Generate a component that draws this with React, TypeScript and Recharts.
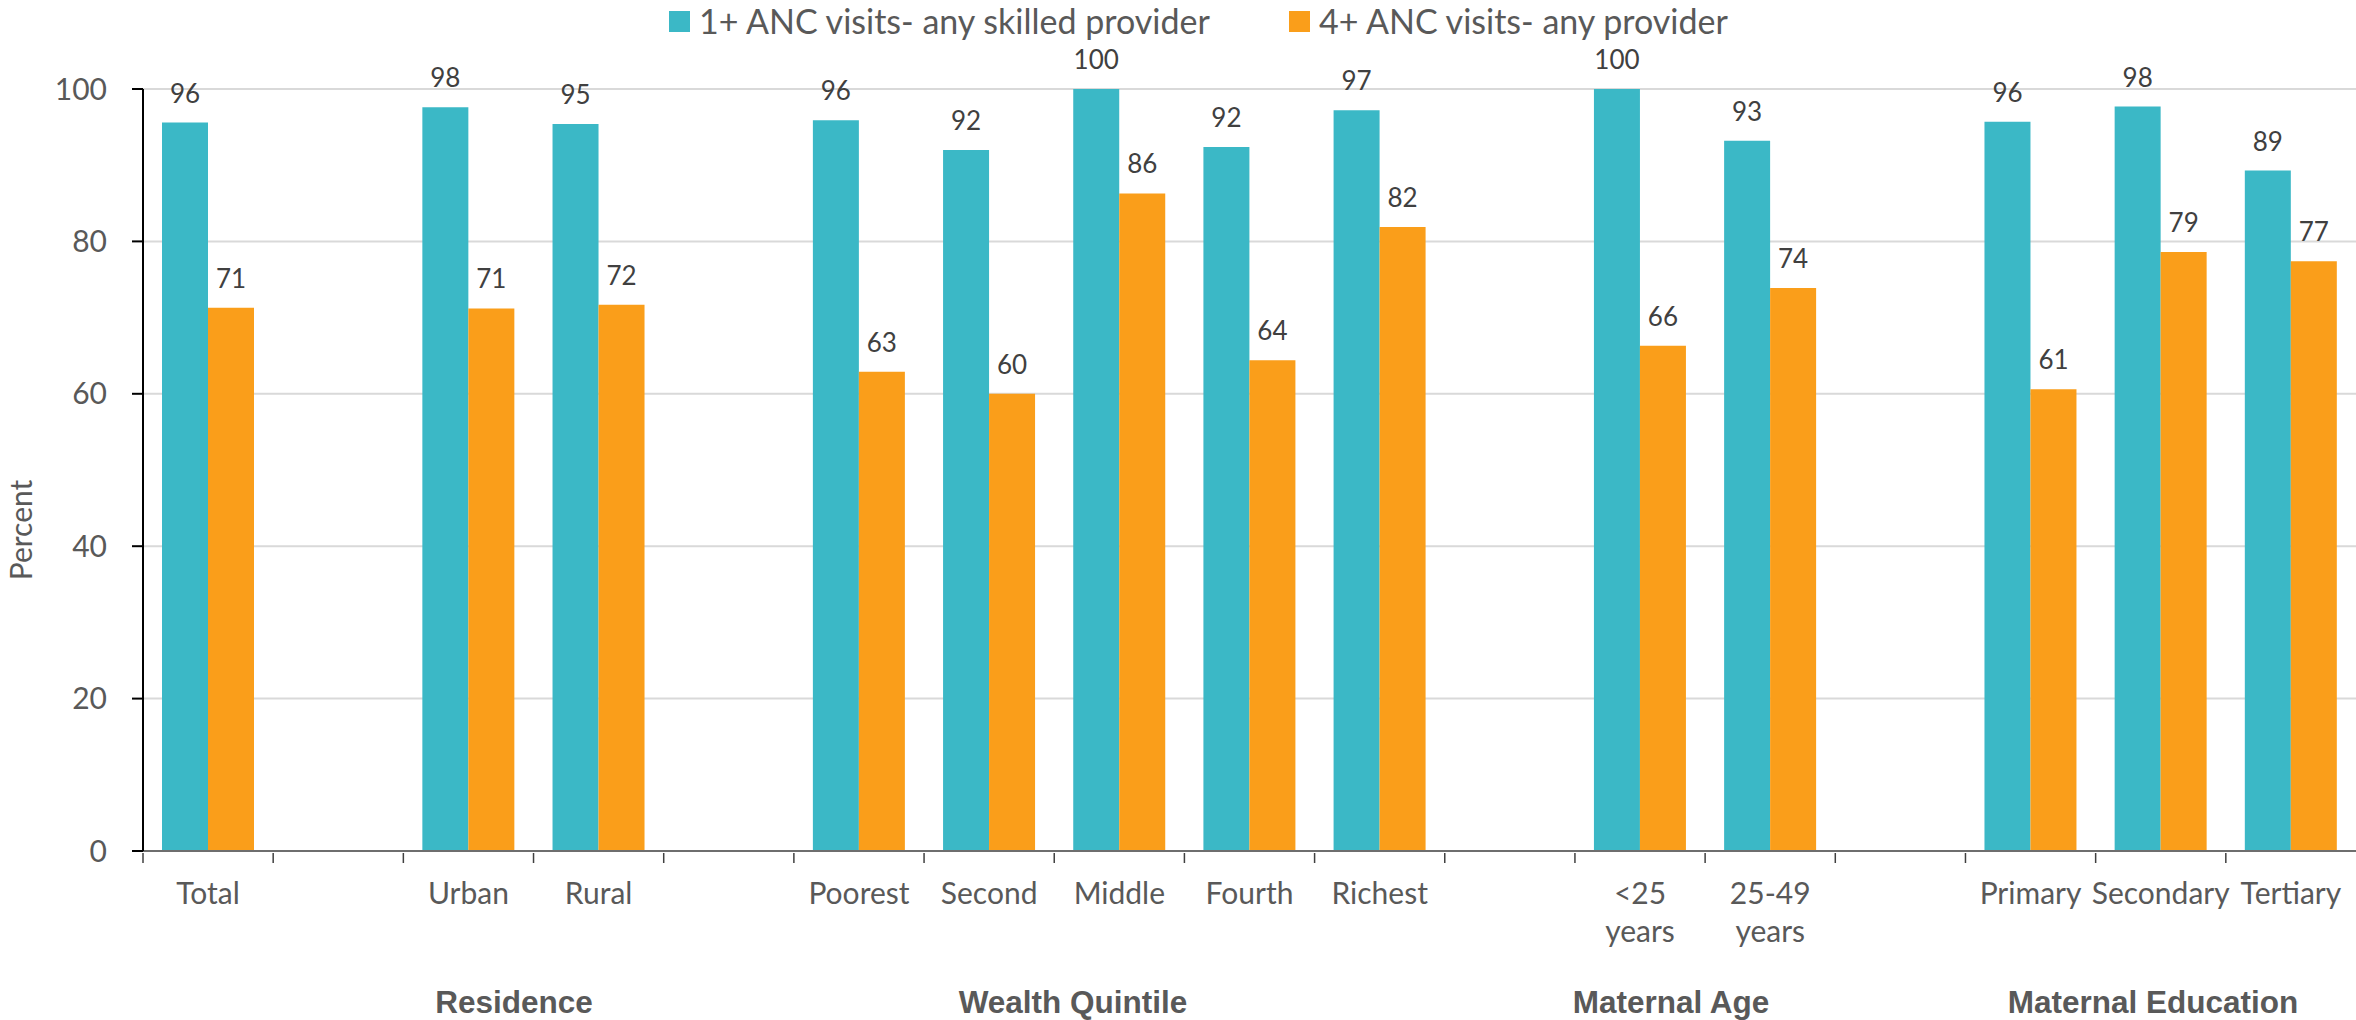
import React from 'react';
import { BarChart, Bar, XAxis, YAxis, CartesianGrid, LabelList, Customized } from 'recharts';

const categories = ['Total', '', 'Urban', 'Rural', '', 'Poorest', 'Second', 'Middle', 'Fourth', 'Richest', '', '<25|years', '25-49|years', '', 'Primary', 'Secondary', 'Tertiary'];
const skilled1 = [95.6, null, 97.6, 95.4, null, 95.9, 92.0, 100, 92.4, 97.2, null, 100, 93.2, null, 95.7, 97.7, 89.3];
const visits4 = [71.3, null, 71.2, 71.7, null, 62.9, 60.0, 86.3, 64.4, 81.9, null, 66.3, 73.9, null, 60.6, 78.6, 77.4];
const seriesNames = ['1+ ANC visits- any skilled provider', '4+ ANC visits- any provider'];
const groupLabels = ['Residence', 'Wealth Quintile', 'Maternal Age', 'Maternal Education'];
const yTicks = [0, 20, 40, 60, 80, 100];

const TEAL = '#3BB8C6';
const ORANGE = '#FA9E1A';
const TEXT = '#595959';
const FONT = 'Lato, "Open Sans", sans-serif';

const W = 2356;
const H = 1020;
const PLOT_LEFT = 143;
const PLOT_TOP = 89;
const PLOT_BOTTOM = 851;
const SLOT = (W - PLOT_LEFT) / categories.length;
const groupX = [514, 1073, 1671, 2153];

const data = categories.map((c, i) => ({ key: 'c' + i, skilled1: skilled1[i], visits4: visits4[i] }));

const XTick = (props: any) => {
  const { x, y, payload } = props;
  const idx = payload.index;
  const lines = categories[idx] ? categories[idx].split('|') : [];
  const bx = x - SLOT / 2;
  return (
    <g>
      <line x1={bx} y1={y} x2={bx} y2={y + 10} stroke="#404040" strokeWidth={1.5} />
      {lines.map((l, i) => (
        <text key={i} x={x} y={y + 51 + i * 38} textAnchor="middle" fill={TEXT} fontSize={30} fontFamily={FONT}>
          {l}
        </text>
      ))}
    </g>
  );
};

const Groups = () => (
  <g>
    {groupLabels.map((g, i) => (
      <text key={g} x={groupX[i]} y={1013} textAnchor="middle" fill={TEXT} fontSize={31.5} fontWeight="bold" fontFamily='"Liberation Sans", Arial, sans-serif'>
        {g}
      </text>
    ))}
    <text x={0} y={0} transform={`translate(32, 530) rotate(-90)`} textAnchor="middle" fill={TEXT} fontSize={30} fontFamily={FONT}>
      Percent
    </text>
  </g>
);

const fmt = (v: any) => (v == null ? '' : Math.round(v));

export default function App() {
  return (
    <div style={{ position: 'absolute', left: 0, top: 0, width: W, height: H, background: '#fff' }}>
      <div style={{ position: 'absolute', left: 0, top: 0, width: W, height: 44, fontFamily: FONT, fontSize: 34, color: TEXT }}>
        <div style={{ position: 'absolute', left: 669, top: 11, width: 21, height: 21, background: TEAL }} />
        <div style={{ position: 'absolute', left: 699, top: 0, lineHeight: '42px', whiteSpace: 'nowrap' }}>{seriesNames[0]}</div>
        <div style={{ position: 'absolute', left: 1289, top: 11, width: 21, height: 21, background: ORANGE }} />
        <div style={{ position: 'absolute', left: 1319, top: 0, lineHeight: '42px', whiteSpace: 'nowrap' }}>{seriesNames[1]}</div>
      </div>
      <BarChart
        width={W}
        height={H}
        data={data}
        margin={{ top: PLOT_TOP, right: 0, left: 0, bottom: 0 }}
        barGap={0}
        barSize={46}
      >
        <CartesianGrid vertical={false} stroke="#D9D9D9" strokeWidth={2} />
        <XAxis
          dataKey="key"
          interval={0}
          height={H - PLOT_BOTTOM}
          tickSize={0}
          tickLine={false}
          tick={<XTick />}
          axisLine={{ stroke: '#6E6E6E', strokeWidth: 2 }}
        />
        <YAxis
          width={PLOT_LEFT}
          domain={[0, 100]}
          ticks={yTicks}
          interval={0}
          tickSize={11}
          tickMargin={25}
          tick={{ fill: TEXT, fontSize: 30, fontFamily: FONT }}
          tickLine={{ stroke: '#000', strokeWidth: 2 }}
          axisLine={{ stroke: '#000', strokeWidth: 2 }}
        />
        <Bar dataKey="skilled1" name={seriesNames[0]} fill={TEAL} isAnimationActive={false}>
          <LabelList dataKey="skilled1" position="top" offset={20} formatter={fmt} fill="#404040" fontSize={26} fontFamily={FONT} />
        </Bar>
        <Bar dataKey="visits4" name={seriesNames[1]} fill={ORANGE} isAnimationActive={false}>
          <LabelList dataKey="visits4" position="top" offset={20} formatter={fmt} fill="#404040" fontSize={26} fontFamily={FONT} />
        </Bar>
        <Customized component={Groups} />
      </BarChart>
    </div>
  );
}
